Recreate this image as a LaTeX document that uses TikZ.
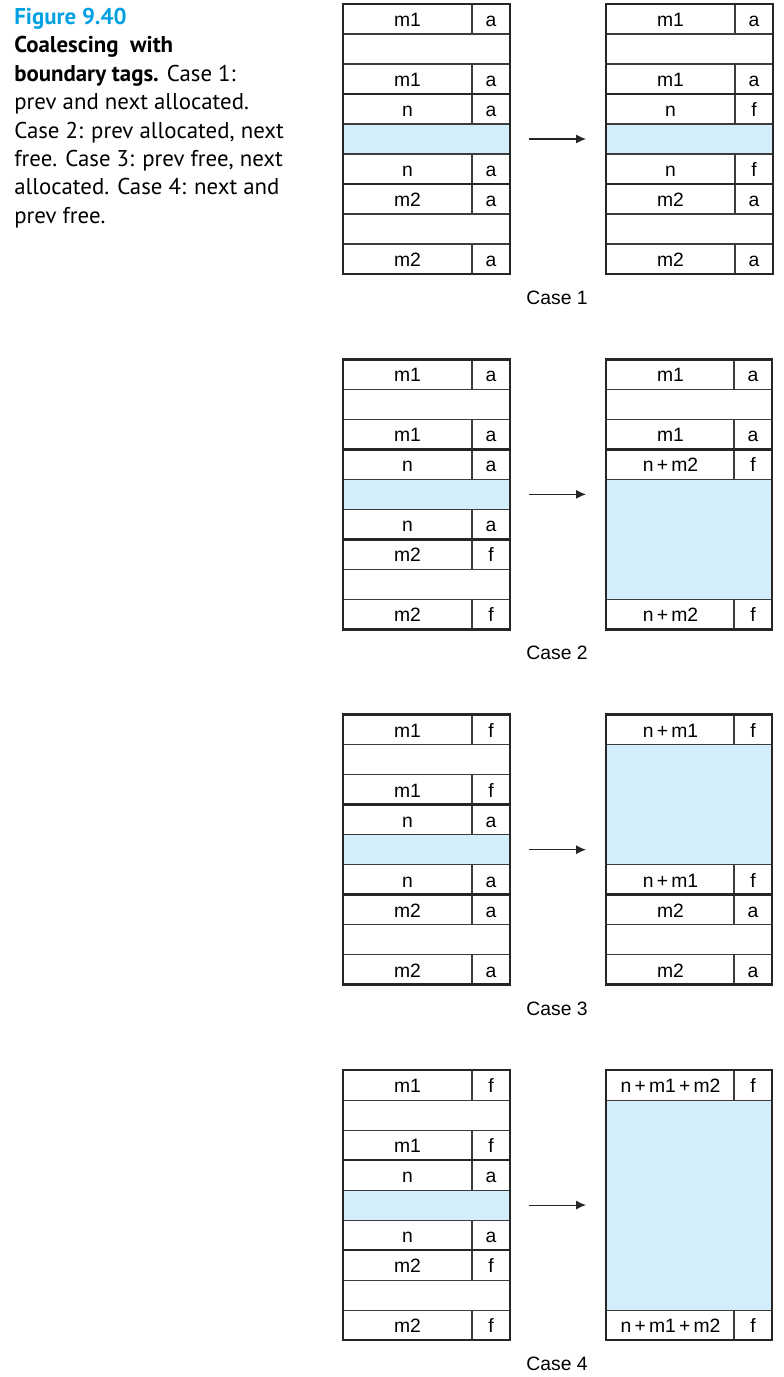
\documentclass[tikz,border=0pt]{standalone}
\usepackage{fontspec}
\setmainfont{PT Sans}
\newfontfamily\diagfont{Liberation Sans}
\usetikzlibrary{arrows.meta}
\definecolor{figblue}{RGB}{0,160,227}
\definecolor{freeblue}{RGB}{211,237,250}
\definecolor{ruleline}{RGB}{60,60,60}

\begin{document}
\begin{tikzpicture}[
    thinline/.style={draw=ruleline, line width=0.6pt},
    thickline/.style={draw=black!85, line width=1.4pt},
    payload/.style={fill=freeblue},
    lbl/.style={font=\diagfont\fontsize{11}{13}\selectfont, inner sep=0pt, text height=1.7ex, text depth=0pt},
    steparrow/.style={draw=black!85, line width=0.6pt, -{Latex[length=2mm,width=1.8mm]}}
  ]
    % Page size
    \useasboundingbox (0,0) rectangle (15.68,-27.54);

    % Caption
    \node[anchor=north west, align=left, inner sep=0pt,
      font=\fontsize{13}{16.2}\selectfont] (caption) at (0.28,-0.15)
      {{\color{figblue}\bfseries Figure 9.40}\\
       {\bfseries Coalescing\ \ with}\\
       {\bfseries boundary tags.} Case 1:\\
       prev and next allocated.\\
       Case 2: prev allocated, next\\
       free. Case 3: prev free, next\\
       allocated. Case 4: next and\\
       prev free.};

    % Blocks before coalescing (and right block of case 1)
    \foreach \b/\k/\dx/\pt/\nt/\mt in {1/0/0/a/a/a, 2/0/5.26/a/f/a, 3/1/0/a/a/f, 4/2/0/f/a/a, 5/3/0/f/a/f}{
      \begin{scope}[yshift={-(0.08cm+\k*7.107cm)}, xshift=\dx cm]
        % payload of n
        \fill[payload] (6.86,-2.4) rectangle (10.2,-3.0);
        \foreach \r in {1,...,8}
          \draw[thinline] (6.86,-0.6*\r) -- (10.2,-0.6*\r);
        \foreach \r in {0,2,3,5,6,8}
          \draw[thinline] (9.44,-0.6*\r) -- (9.44,-0.6*\r-0.6);
        \draw[thickline] (6.86,-1.8) -- (10.2,-1.8);
        \draw[thickline] (6.86,-3.6) -- (10.2,-3.6);
        \draw[thickline] (6.86,0) rectangle (10.2,-5.4);
        % prev
        \node[lbl] (b\b-prevhd) at (8.15,-0.3) {m1};
        \node[lbl] (b\b-prevhdtag) at (9.82,-0.3) {\pt};
        \node[lbl] (b\b-prevft) at (8.15,-1.5) {m1};
        \node[lbl] (b\b-prevfttag) at (9.82,-1.5) {\pt};
        % current
        \node[lbl] (b\b-curhd) at (8.15,-2.1) {n};
        \node[lbl] (b\b-curhdtag) at (9.82,-2.1) {\nt};
        \node[lbl] (b\b-curft) at (8.15,-3.3) {n};
        \node[lbl] (b\b-curfttag) at (9.82,-3.3) {\nt};
        % next
        \node[lbl] (b\b-nexthd) at (8.15,-3.9) {m2};
        \node[lbl] (b\b-nexthdtag) at (9.82,-3.9) {\mt};
        \node[lbl] (b\b-nextft) at (8.15,-5.1) {m2};
        \node[lbl] (b\b-nextfttag) at (9.82,-5.1) {\mt};
      \end{scope}
    }

    % Case 2 after
    \begin{scope}[yshift=-7.187cm]
      \fill[payload] (12.12,-2.4) rectangle (15.44,-4.8);
      \foreach \yy in {0.6,1.2,2.4,4.8}
        \draw[thinline] (12.12,-\yy) -- (15.44,-\yy);
      \foreach \r in {0,2,3,8}
        \draw[thinline] (14.68,-0.6*\r) -- (14.68,-0.6*\r-0.6);
      \draw[thickline] (12.12,-1.8) -- (15.44,-1.8);
      \draw[thickline] (12.12,0) rectangle (15.44,-5.4);
      \node[lbl] (c2-prevhd) at (13.41,-0.3) {m1};
      \node[lbl] (c2-prevhdtag) at (15.06,-0.3) {a};
      \node[lbl] (c2-prevft) at (13.41,-1.5) {m1};
      \node[lbl] (c2-prevfttag) at (15.06,-1.5) {a};
      \node[lbl] (c2-newhd) at (13.41,-2.1) {n\,+\,m2};
      \node[lbl] (c2-newhdtag) at (15.06,-2.1) {f};
      \node[lbl] (c2-newft) at (13.41,-5.1) {n\,+\,m2};
      \node[lbl] (c2-newfttag) at (15.06,-5.1) {f};
    \end{scope}

    % Case 3 after
    \begin{scope}[yshift=-14.294cm]
      \fill[payload] (12.12,-0.6) rectangle (15.44,-3.0);
      \foreach \yy in {0.6,3.0,4.2,4.8}
        \draw[thinline] (12.12,-\yy) -- (15.44,-\yy);
      \foreach \r in {0,5,6,8}
        \draw[thinline] (14.68,-0.6*\r) -- (14.68,-0.6*\r-0.6);
      \draw[thickline] (12.12,-3.6) -- (15.44,-3.6);
      \draw[thickline] (12.12,0) rectangle (15.44,-5.4);
      \node[lbl] (c3-newhd) at (13.41,-0.3) {n\,+\,m1};
      \node[lbl] (c3-newhdtag) at (15.06,-0.3) {f};
      \node[lbl] (c3-newft) at (13.41,-3.3) {n\,+\,m1};
      \node[lbl] (c3-newfttag) at (15.06,-3.3) {f};
      \node[lbl] (c3-nexthd) at (13.41,-3.9) {m2};
      \node[lbl] (c3-nexthdtag) at (15.06,-3.9) {a};
      \node[lbl] (c3-nextft) at (13.41,-5.1) {m2};
      \node[lbl] (c3-nextfttag) at (15.06,-5.1) {a};
    \end{scope}

    % Case 4 after
    \begin{scope}[yshift=-21.401cm]
      \fill[payload] (12.12,-0.6) rectangle (15.44,-4.8);
      \foreach \yy in {0.6,4.8}
        \draw[thinline] (12.12,-\yy) -- (15.44,-\yy);
      \foreach \r in {0,8}
        \draw[thinline] (14.68,-0.6*\r) -- (14.68,-0.6*\r-0.6);
      \draw[thickline] (12.12,0) rectangle (15.44,-5.4);
      \node[lbl] (c4-newhd) at (13.41,-0.3) {n\,+\,m1\,+\,m2};
      \node[lbl] (c4-newhdtag) at (15.06,-0.3) {f};
      \node[lbl] (c4-newft) at (13.41,-5.1) {n\,+\,m1\,+\,m2};
      \node[lbl] (c4-newfttag) at (15.06,-5.1) {f};
    \end{scope}

    % Arrows and case labels
    \foreach \k in {0,...,3}{
      \begin{scope}[yshift={-(0.08cm+\k*7.107cm)}]
        \coordinate (arr\k-from) at (10.58,-2.7);
        \coordinate (arr\k-to) at (11.72,-2.7);
        \draw[steparrow] (arr\k-from) -- (arr\k-to);
        \pgfmathtruncatemacro{\casenum}{\k+1}
        \node[lbl] (case\k) at (11.14,-5.86) {Case \casenum};
      \end{scope}
    }
  \end{tikzpicture}
\end{document}
